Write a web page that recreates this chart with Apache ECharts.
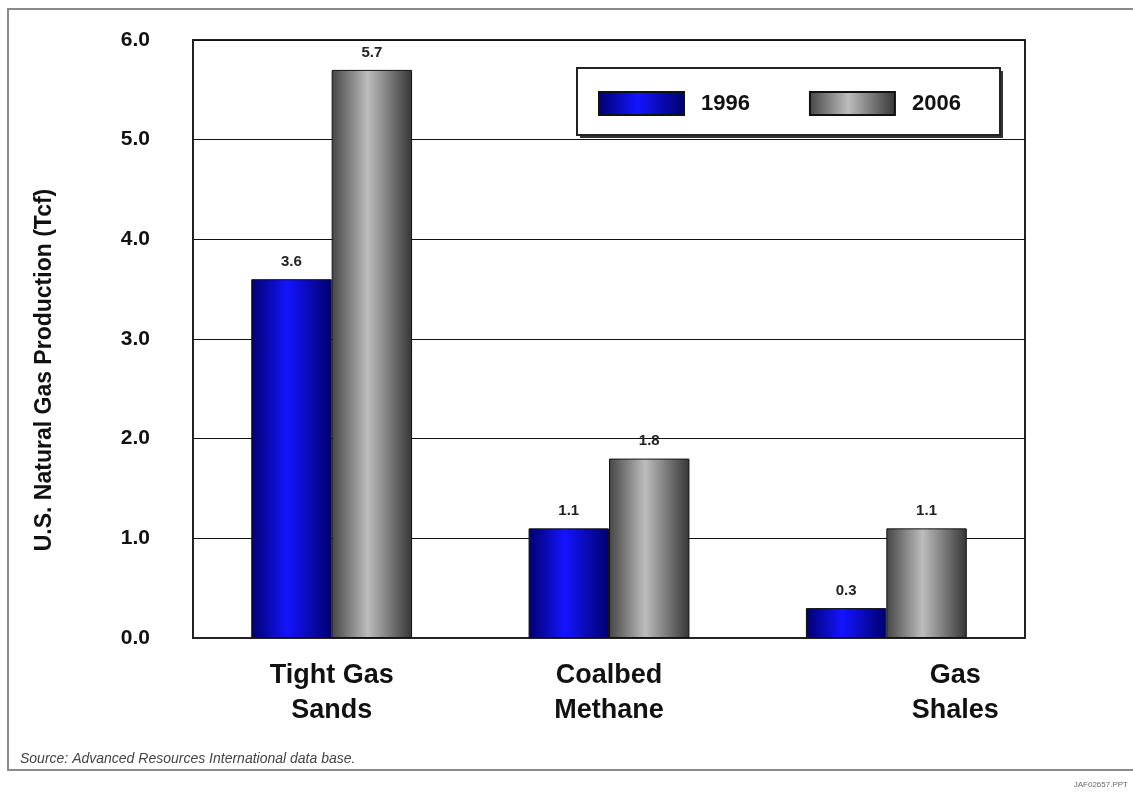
<!DOCTYPE html>
<html>
<head>
<meta charset="utf-8">
<script src="https://cdn.jsdelivr.net/npm/echarts@6/dist/echarts.min.js"></script>
<style>
html,body{margin:0;padding:0;background:#fff;}
#chart{width:1133px;height:795px;}
</style>
</head>
<body>
<div id="chart"></div>
<script>
const categories = ['Tight Gas\nSands', 'Coalbed\nMethane', 'Gas\nShales'];
const seriesNames = ['1996', '2006'];
const values1996 = [3.6, 1.1, 0.3];
const values2006 = [5.7, 1.8, 1.1];
const yTicks = [0, 1, 2, 3, 4, 5, 6];
const yTitle = 'U.S. Natural Gas Production (Tcf)';
const sourceText = 'Source: Advanced Resources International data base.';
const fileTag = 'JAF02657.PPT';

const FONT = '"Liberation Sans", Arial, sans-serif';

const blueGrad = new echarts.graphic.LinearGradient(0, 0, 1, 0, [
  {offset: 0, color: '#000070'},
  {offset: 0.45, color: '#1414ff'},
  {offset: 1, color: '#00006a'}
]);
const grayGrad = new echarts.graphic.LinearGradient(0, 0, 1, 0, [
  {offset: 0, color: '#454545'},
  {offset: 0.45, color: '#bdbdbd'},
  {offset: 1, color: '#353535'}
]);

const chart = echarts.init(document.getElementById('chart'));
const labelStyle = {
  show: true, position: 'top', distance: 10,
  fontFamily: FONT, fontWeight: 'bold', fontSize: 15, color: '#222',
  formatter: p => p.value.toFixed(1)
};

chart.setOption({
  animation: false,
  backgroundColor: '#fff',
  grid: {left: 193, right: 108, top: 40, bottom: 157, show: true,
         borderColor: '#222', borderWidth: 2},
  legend: {
    left: 593, top: 86,
    itemWidth: 85, itemHeight: 23, itemGap: 59,
    textStyle: {fontFamily: FONT, fontWeight: 'bold', fontSize: 22, color: '#111', padding: [0, 0, 0, 12]},
    data: seriesNames.map(n => ({name: n, icon: 'rect'}))
  },
  xAxis: {
    type: 'category',
    data: categories.map((c, i) => i === 2
      ? {value: c, textStyle: {padding: [0, 0, 0, 138]}}
      : c),
    axisLine: {lineStyle: {color: '#222', width: 2}},
    axisTick: {show: false},
    axisLabel: {fontFamily: FONT, fontWeight: 'bold', fontSize: 27, color: '#111',
                lineHeight: 35, margin: 20}
  },
  yAxis: {
    type: 'value', min: yTicks[0], max: yTicks[yTicks.length - 1], interval: 1,
    axisLine: {show: true, lineStyle: {color: '#222', width: 2}},
    axisTick: {show: false},
    splitLine: {lineStyle: {color: '#111', width: 1}},
    axisLabel: {fontFamily: FONT, fontWeight: 'bold', fontSize: 21, color: '#111',
                margin: 43, formatter: v => v.toFixed(1)}
  },
  series: [
    {name: seriesNames[0], type: 'bar', data: values1996, barGap: '0%', barCategoryGap: '42%',
     itemStyle: {color: blueGrad, borderColor: '#111', borderWidth: 1}, label: labelStyle},
    {name: seriesNames[1], type: 'bar', data: values2006, barGap: '0%', barCategoryGap: '42%',
     itemStyle: {color: grayGrad, borderColor: '#111', borderWidth: 1}, label: labelStyle}
  ],
  graphic: [
    {type: 'rect', z: -1, shape: {x: 8, y: 9, width: 1140, height: 761},
     style: {fill: 'none', stroke: '#8a8a8a', lineWidth: 2}},
    {type: 'rect', z: 0, shape: {x: 580, y: 71, width: 423, height: 67},
     style: {fill: '#333'}},
    {type: 'rect', z: 0, shape: {x: 577, y: 68, width: 423, height: 67},
     style: {fill: '#fff', stroke: '#222', lineWidth: 2}},
    {type: 'text', x: 45, y: 370, rotation: Math.PI / 2,
     style: {text: yTitle, fontFamily: FONT, fontWeight: 'bold', fontSize: 23, fill: '#111',
             align: 'center', verticalAlign: 'middle'}},
    {type: 'text', left: 20, top: 752,
     style: {text: sourceText, fontFamily: FONT, fontStyle: 'italic', fontSize: 14, fill: '#444'}},
    {type: 'text', right: 5, top: 781,
     style: {text: fileTag, fontFamily: FONT, fontSize: 8, fill: '#666'}}
  ]
});
</script>
</body>
</html>
